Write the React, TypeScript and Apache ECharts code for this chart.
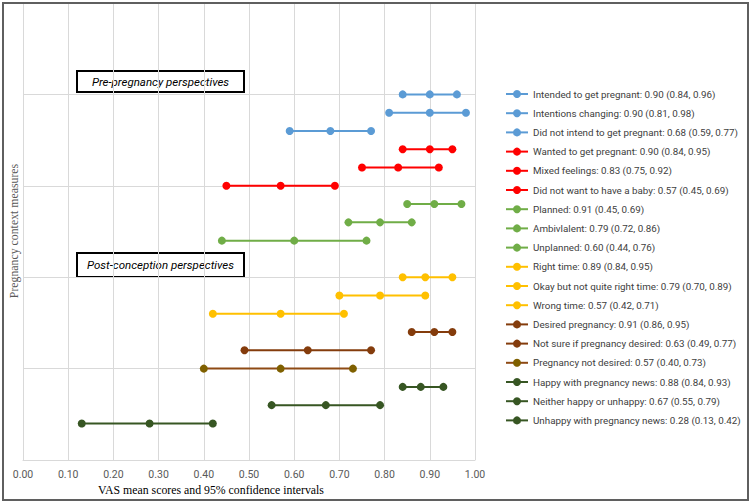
import React, { useEffect, useRef } from "react";
import * as echarts from "echarts";

const labels = [
  "Intended to get pregnant: 0.90 (0.84, 0.96)",
  "Intentions changing: 0.90 (0.81, 0.98)",
  "Did not intend to get pregnant: 0.68 (0.59, 0.77)",
  "Wanted to get pregnant: 0.90 (0.84, 0.95)",
  "Mixed feelings: 0.83 (0.75, 0.92)",
  "Did not want to have a baby: 0.57 (0.45, 0.69)",
  "Planned: 0.91 (0.45, 0.69)",
  "Ambivlalent: 0.79 (0.72, 0.86)",
  "Unplanned: 0.60 (0.44, 0.76)",
  "Right time: 0.89 (0.84, 0.95)",
  "Okay but not quite right time: 0.79 (0.70, 0.89)",
  "Wrong time: 0.57 (0.42, 0.71)",
  "Desired pregnancy: 0.91 (0.86, 0.95)",
  "Not sure if pregnancy desired: 0.63 (0.49, 0.77)",
  "Pregnancy not desired: 0.57 (0.40, 0.73)",
  "Happy with pregnancy news: 0.88 (0.84, 0.93)",
  "Neither happy or unhappy: 0.67 (0.55, 0.79)",
  "Unhappy with pregnancy news: 0.28 (0.13, 0.42)",
];
const lows = [0.84, 0.81, 0.59, 0.84, 0.75, 0.45, 0.85, 0.72, 0.44, 0.84, 0.7, 0.42, 0.86, 0.49, 0.4, 0.84, 0.55, 0.13];
const means = [0.9, 0.9, 0.68, 0.9, 0.83, 0.57, 0.91, 0.79, 0.6, 0.89, 0.79, 0.57, 0.91, 0.63, 0.57, 0.88, 0.67, 0.28];
const highs = [0.96, 0.98, 0.77, 0.95, 0.92, 0.69, 0.97, 0.86, 0.76, 0.95, 0.89, 0.71, 0.95, 0.77, 0.73, 0.93, 0.79, 0.42];
const rowPos = [4.0, 3.8, 3.6, 3.4, 3.2, 3.0, 2.8, 2.6, 2.4, 2.0, 1.8, 1.6, 1.4, 1.2, 1.0, 0.8, 0.6, 0.4];
const lineColors = [
  "#5B9BD5", "#5B9BD5", "#5B9BD5",
  "#FF0000", "#FF0000", "#FF0000",
  "#70AD47", "#70AD47", "#70AD47",
  "#FFC000", "#FFC000", "#FFC000",
  "#843C0C", "#843C0C", "#8E4A14",
  "#375623", "#375623", "#375623",
];
const markerColors = [
  "#5B9BD5", "#5B9BD5", "#5B9BD5",
  "#FF0000", "#FF0000", "#FF0000",
  "#70AD47", "#70AD47", "#70AD47",
  "#FFC000", "#FFC000", "#FFC000",
  "#843C0C", "#843C0C", "#7F6000",
  "#375623", "#375623", "#375623",
];
const xTicks = [0, 0.1, 0.2, 0.3, 0.4, 0.5, 0.6, 0.7, 0.8, 0.9, 1.0];

const sans = "'Roboto', 'Liberation Sans', sans-serif";
const serif = "'Liberation Serif', 'DejaVu Serif', serif";

export default function App() {
  const ref = useRef<HTMLDivElement>(null);
  useEffect(() => {
    if (!ref.current) return;
    const chart = echarts.init(ref.current, undefined, { renderer: "svg" });
    const series = labels.map((name, i) => ({
      name,
      type: "line",
      data: [
        [lows[i], rowPos[i]],
        [means[i], rowPos[i]],
        [highs[i], rowPos[i]],
      ],
      symbol: "circle",
      symbolSize: 8,
      lineStyle: { color: lineColors[i], width: 2 },
      itemStyle: { color: markerColors[i] },
      z: 3,
    }));
    chart.setOption({
      animation: false,
      backgroundColor: "#ffffff",
      grid: { left: 23, right: 275, top: 3, bottom: 44, containLabel: false },
      xAxis: {
        type: "value",
        min: xTicks[0],
        max: xTicks[xTicks.length - 1],
        interval: 0.1,
        axisLine: { show: true, lineStyle: { color: "#D9D9D9", width: 1 } },
        axisTick: { show: false },
        axisLabel: {
          formatter: (v: number) => v.toFixed(2),
          color: "#595959",
          fontSize: 10.5,
          fontFamily: sans,
          margin: 9,
        },
        splitLine: { show: true, lineStyle: { color: "#D9D9D9", width: 1 } },
      },
      yAxis: {
        type: "value",
        min: 0,
        max: 5,
        interval: 1,
        axisLine: { show: false },
        axisTick: { show: false },
        axisLabel: { show: false },
        splitLine: { show: true, lineStyle: { color: "#D9D9D9", width: 1 } },
      },
      legend: {
        data: labels,
        orient: "vertical",
        left: 505,
        top: 88,
        padding: 0,
        itemWidth: 22,
        itemHeight: 10,
        itemGap: 7.2,
        selectedMode: false,
        textStyle: { fontSize: 9.8, color: "#404040", fontFamily: sans, lineHeight: 12 },
      },
      graphic: [
        {
          type: "rect",
          shape: { x: 3, y: 3, width: 745, height: 497 },
          style: { fill: "none", stroke: "#5F5F5F", lineWidth: 2 },
          z: 10,
        },
        {
          type: "group",
          x: 77,
          y: 71,
          z: 10,
          children: [
            {
              type: "rect",
              shape: { x: 0, y: 0, width: 167, height: 21 },
              style: { fill: "#ffffff", stroke: "#000000", lineWidth: 2 },
            },
            {
              type: "text",
              x: 83.5,
              y: 10.5,
              style: {
                text: "Pre-pregnancy perspectives",
                fontSize: 11.5,
                fontStyle: "italic",
                fontFamily: sans,
                fill: "#000000",
                align: "center",
                verticalAlign: "middle",
              },
            },
          ],
        },
        {
          type: "group",
          x: 77,
          y: 253,
          z: 10,
          children: [
            {
              type: "rect",
              shape: { x: 0, y: 0, width: 167, height: 24 },
              style: { fill: "#ffffff", stroke: "#000000", lineWidth: 2 },
            },
            {
              type: "text",
              x: 83.5,
              y: 12,
              style: {
                text: "Post-conception perspectives",
                fontSize: 11.5,
                fontStyle: "italic",
                fontFamily: sans,
                fill: "#000000",
                align: "center",
                verticalAlign: "middle",
              },
            },
          ],
        },
        {
          type: "text",
          x: 211,
          y: 490,
          style: {
            text: "VAS mean scores and 95% confidence intervals",
            fontSize: 11.8,
            fontFamily: serif,
            fill: "#000000",
            align: "center",
            verticalAlign: "middle",
          },
        },
        {
          type: "text",
          x: 14,
          y: 231,
          rotation: Math.PI / 2,
          style: {
            text: "Pregnancy context measures",
            fontSize: 11.8,
            fontFamily: serif,
            fill: "#595959",
            align: "center",
            verticalAlign: "middle",
          },
        },
      ],
      series,
    });
    return () => chart.dispose();
  }, []);
  return (
    <div
      ref={ref}
      style={{ position: "absolute", left: 0, top: 0, width: 750, height: 504 }}
    />
  );
}
